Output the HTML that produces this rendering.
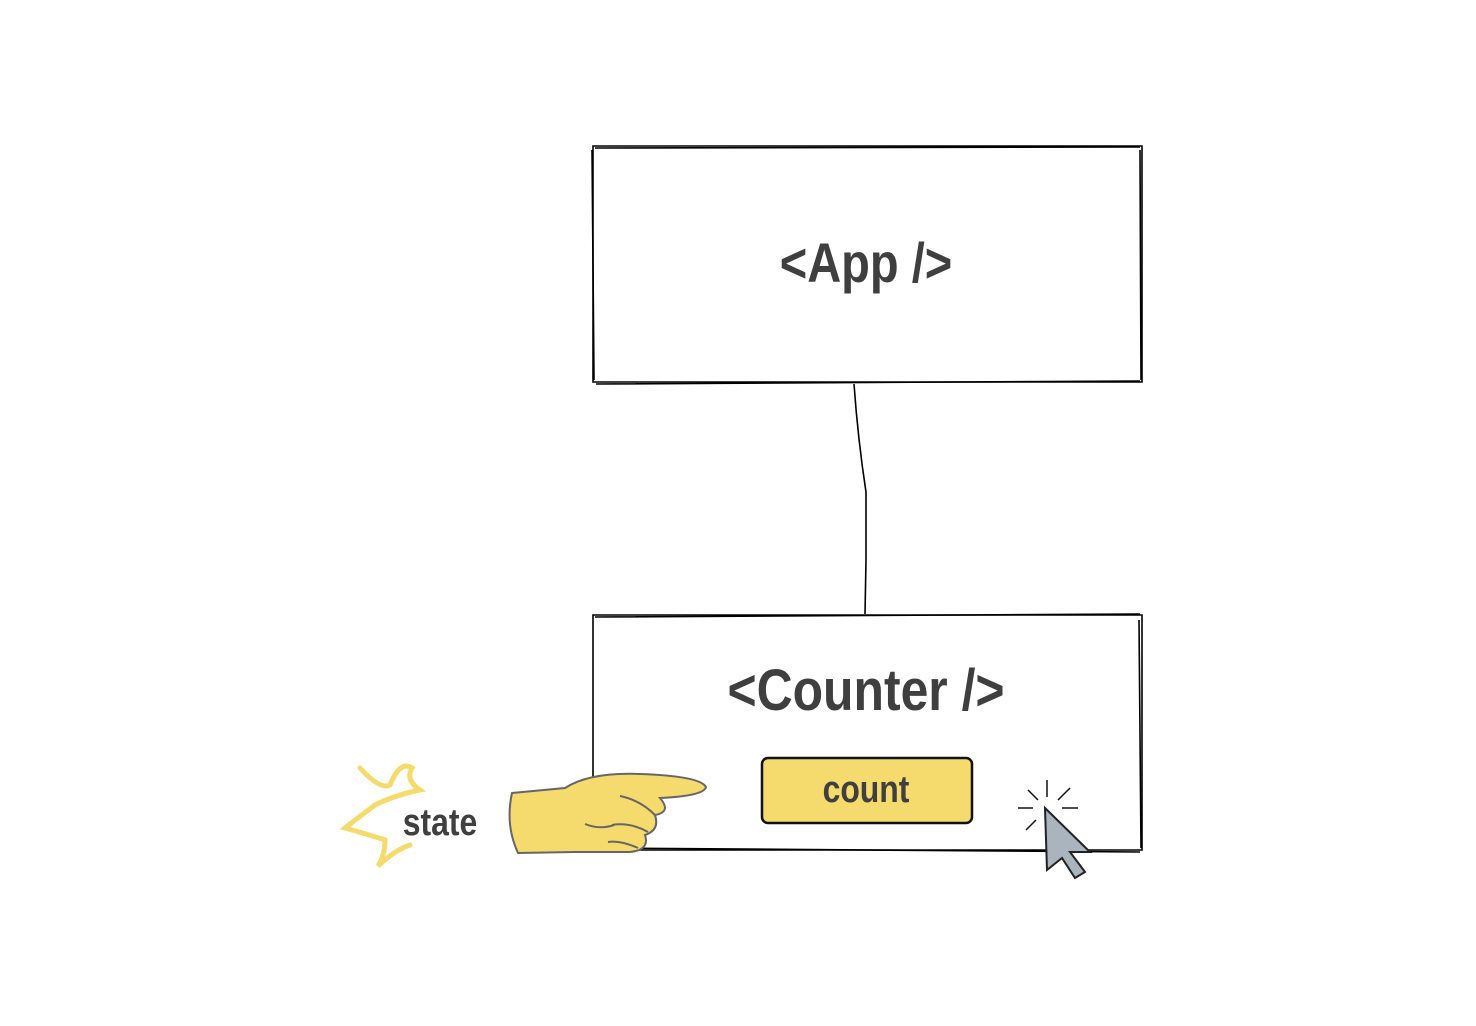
<!DOCTYPE html>
<html><head><style>
html,body{margin:0;padding:0;background:#fff;width:1476px;height:1026px;overflow:hidden}
svg{display:block}
text{font-family:"Liberation Sans",sans-serif;font-weight:bold;fill:#3f3f3f}
</style></head><body>
<svg width="1476" height="1026" viewBox="0 0 1476 1026">
<g fill="none" stroke="#000" stroke-width="1.6">
<path d="M593 146 L1142 146 L1142 382 L593 382 Z"/>
<path d="M595 148 L1140 147 M1140 150 L1141 380 M592 150 L594 380 M596 384 L1140 381"/>
<path d="M593 615 L1142 615 L1142 850 L593 850 Z"/>
<path d="M595 617 L1140 614 M1139 620 L1141 848 M600 848 L1140 852"/>
<path d="M854 384 Q858 440 866 492 L866 560 L865 614"/>
</g>
<text x="866" y="282" font-size="56" text-anchor="middle" transform="translate(866 0) scale(0.84 1) translate(-866 0)">&lt;App /&gt;</text>
<text x="866" y="710" font-size="58" text-anchor="middle" transform="translate(866 0) scale(0.86 1) translate(-866 0)">&lt;Counter /&gt;</text>
<rect x="762" y="758" width="210" height="65" rx="6" fill="#f5da6e" stroke="#111" stroke-width="2.5"/>
<text x="866" y="802" font-size="38" text-anchor="middle" transform="translate(866 0) scale(0.84 1) translate(-866 0)">count</text>
<path d="M512 793 Q545 790 565 788 Q590 772 640 774 Q700 776 706 787 Q704 796 660 798 Q672 812 655 815 Q660 830 645 835 Q650 850 630 852 L575 852 L518 853 Q505 825 512 793 Z" fill="#f5da6e" stroke="#666" stroke-width="2"/>
<path d="M620 796 Q640 800 655 815 M612 825 Q630 822 648 832 M608 842 Q620 840 638 848 M585 824 Q600 830 614 825" fill="none" stroke="#666" stroke-width="2"/>
<path d="M360 768 Q380 790 390 785 Q400 760 412 768 Q405 780 420 790 Q395 795 375 805 Q355 820 345 828 Q370 835 385 840 Q385 855 378 866 Q395 850 410 845" fill="none" stroke="#f5da6e" stroke-width="5" stroke-linecap="round"/>
<text x="440" y="835" font-size="38" text-anchor="middle" transform="translate(440 0) scale(0.84 1) translate(-440 0)">state</text>
<g stroke="#111" stroke-width="1.5"><path d="M1047 780 L1047 797 M1028 790 L1038 800 M1070 788 L1058 800 M1018 808 L1033 808 M1062 808 L1078 808 M1026 830 L1036 820"/></g>
<path d="M1045 808 L1090 852 L1070 852 L1085 872 L1075 878 L1062 858 L1047 870 Z" fill="#a9b4bf" stroke="#222" stroke-width="2"/>
</svg>
</body></html>
